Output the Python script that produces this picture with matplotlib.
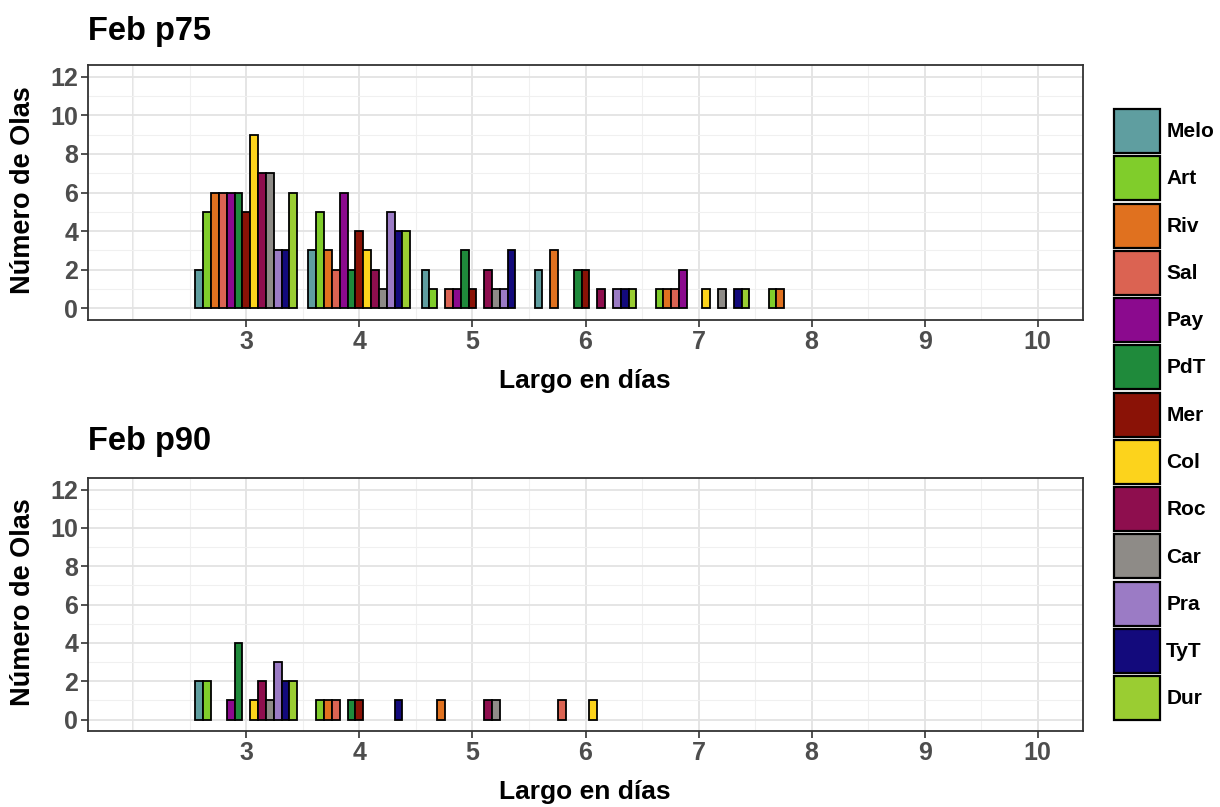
import matplotlib.pyplot as plt
from matplotlib.patches import Patch
from matplotlib.ticker import MultipleLocator

stations = ['Melo', 'Art', 'Riv', 'Sal', 'Pay', 'PdT', 'Mer',
            'Col', 'Roc', 'Car', 'Pra', 'TyT', 'Dur']
colors = ['#5F9EA0', '#80CD2B', '#E0711F', '#DB6352', '#8B0A8E', '#1F8A3B', '#8A1206',
          '#FCD31C', '#8E0E4E', '#8E8B87', '#9B7BC5', '#130A7C', '#9ACD32']

days = [3, 4, 5, 6, 7, 8]

# waves per station (rows follow `stations`), columns follow `days`
p75_counts = [
    [2, 3, 2, 2, 0, 0],  # Melo
    [5, 5, 1, 0, 1, 1],  # Art
    [6, 3, 0, 3, 1, 1],  # Riv
    [6, 2, 1, 0, 1, 0],  # Sal
    [6, 6, 1, 0, 2, 0],  # Pay
    [6, 2, 3, 2, 0, 0],  # PdT
    [5, 4, 1, 2, 0, 0],  # Mer
    [9, 3, 0, 0, 1, 0],  # Col
    [7, 2, 2, 1, 0, 0],  # Roc
    [7, 1, 1, 0, 1, 0],  # Car
    [3, 5, 1, 1, 0, 0],  # Pra
    [3, 4, 3, 1, 1, 0],  # TyT
    [6, 4, 0, 1, 1, 0],  # Dur
]

p90_counts = [
    [2, 0, 0, 0, 0, 0],  # Melo
    [2, 1, 0, 0, 0, 0],  # Art
    [0, 1, 1, 0, 0, 0],  # Riv
    [0, 1, 0, 1, 0, 0],  # Sal
    [1, 0, 0, 0, 0, 0],  # Pay
    [4, 1, 0, 0, 0, 0],  # PdT
    [0, 1, 0, 0, 0, 0],  # Mer
    [1, 0, 0, 1, 0, 0],  # Col
    [2, 0, 1, 0, 0, 0],  # Roc
    [1, 0, 1, 0, 0, 0],  # Car
    [3, 0, 0, 0, 0, 0],  # Pra
    [2, 1, 0, 0, 0, 0],  # TyT
    [2, 0, 0, 0, 0, 0],  # Dur
]

plt.rcParams['font.family'] = ['Liberation Sans', 'DejaVu Sans']
plt.rcParams['font.weight'] = 'bold'

W, H = 1220, 807
fig = plt.figure(figsize=(W / 100, H / 100), dpi=100)

tick_col = '#4D4D4D'
bar_w = 0.9 / len(stations)


def draw_panel(ax, counts):
    for i, (name, col) in enumerate(zip(stations, colors)):
        off = -0.45 + bar_w * (i + 0.5)
        xs = [d + off for d, c in zip(days, counts[i]) if c > 0]
        hs = [c for c in counts[i] if c > 0]
        ax.bar(xs, hs, width=bar_w, color=col, edgecolor='black',
               linewidth=1.3, zorder=3)

    ax.set_xlim(1.6, 10.4)
    ax.set_ylim(-0.6, 12.6)
    ax.set_xticks(range(3, 11))
    ax.set_yticks(range(0, 13, 2))
    ax.xaxis.set_minor_locator(MultipleLocator(0.5))
    ax.yaxis.set_minor_locator(MultipleLocator(1))
    ax.grid(True, which='major', color='#E3E3E3', linewidth=1.3, zorder=0)
    ax.grid(True, which='minor', color='#F0F0F0', linewidth=0.8, zorder=0)
    ax.axvline(2, color='#E3E3E3', linewidth=1.3, zorder=0)
    ax.tick_params(which='minor', length=0)
    ax.tick_params(which='major', length=5, width=1.2, color='#333333',
                   labelcolor=tick_col, labelsize=18, pad=2)
    for lab in ax.get_xticklabels() + ax.get_yticklabels():
        lab.set_fontweight('bold')
    for sp in ax.spines.values():
        sp.set_color('#333333')
        sp.set_linewidth(1.3)
    ax.set_axisbelow(True)


def px_box(left, top, right, bottom):
    return [left / W, 1 - bottom / H, (right - left) / W, (bottom - top) / H]


ax1 = fig.add_axes(px_box(88, 65, 1083, 320))
ax2 = fig.add_axes(px_box(88, 478, 1083, 731))
draw_panel(ax1, p75_counts)
draw_panel(ax2, p90_counts)

# titles and axis labels
fig.text(88 / W, 1 - 40 / H, 'Feb p75', fontsize=23.5, fontweight='bold', va='baseline')
fig.text(88 / W, 1 - 450 / H, 'Feb p90', fontsize=23.5, fontweight='bold', va='baseline')
fig.text(585 / W, 1 - 388 / H, 'Largo en días', fontsize=19, fontweight='bold',
         ha='center', va='baseline')
fig.text(585 / W, 1 - 799 / H, 'Largo en días', fontsize=19, fontweight='bold',
         ha='center', va='baseline')
fig.text(23 / W, 1 - 190 / H, 'Número de Olas', fontsize=19.5, fontweight='bold',
         rotation=90, ha='center', va='center')
fig.text(23 / W, 1 - 602 / H, 'Número de Olas', fontsize=19.5, fontweight='bold',
         rotation=90, ha='center', va='center')

handles = [Patch(facecolor=c, edgecolor='black', linewidth=1.6) for c in colors]
fs = 15
fs_px = fs * 100 / 72
fig.legend(handles, stations, loc='upper left',
           bbox_to_anchor=(1114 / W, 1 - 109 / H), frameon=False,
           prop={'size': fs, 'weight': 'bold'},
           handlelength=46 / fs_px, handleheight=2.87,
           labelspacing=3.3 / fs_px, handletextpad=0.3,
           borderpad=0, borderaxespad=0)

fig.savefig('out.png', dpi=100)
